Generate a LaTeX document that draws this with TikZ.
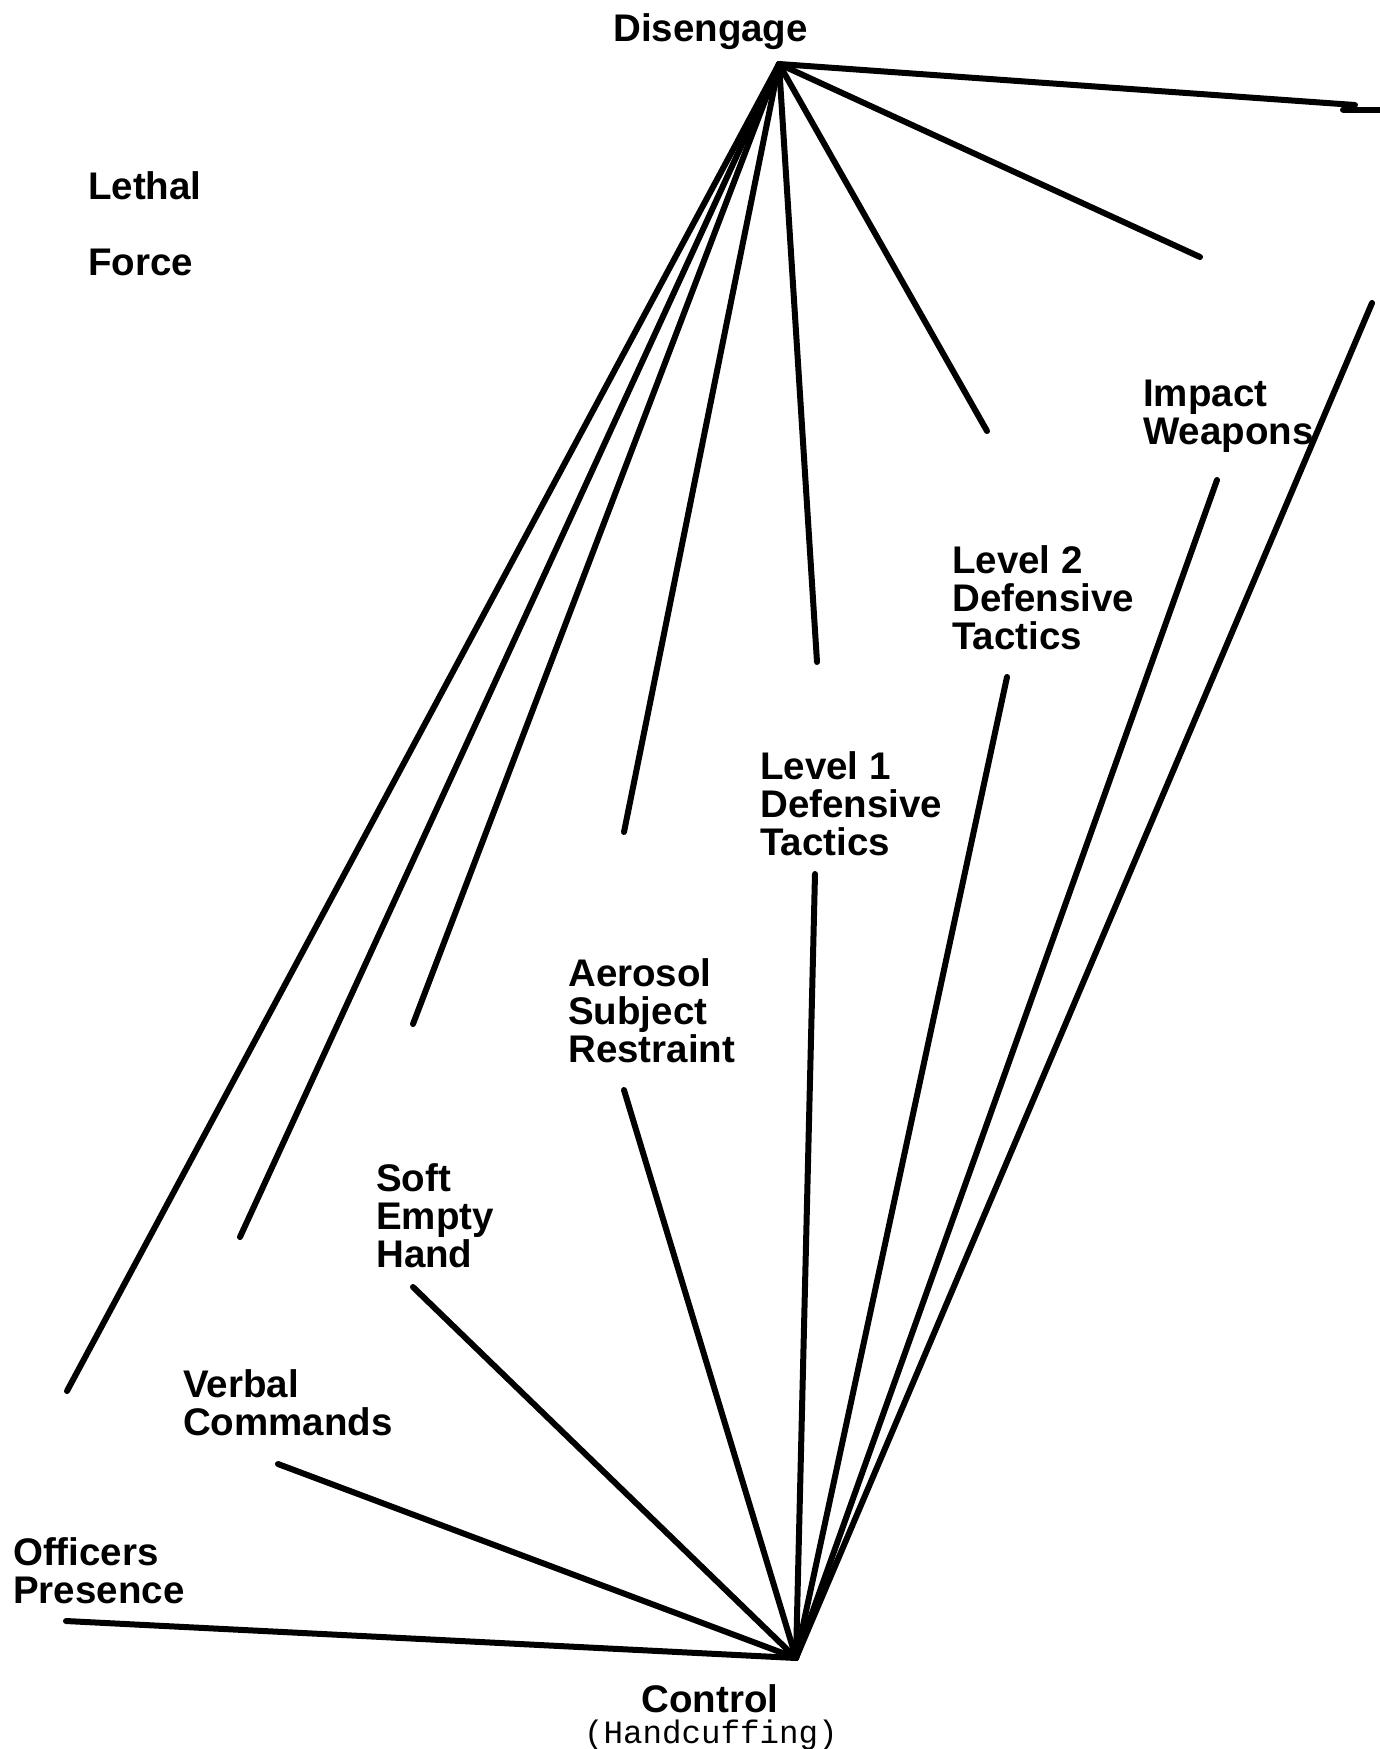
\documentclass[tikz,border=0pt]{standalone}
\usepackage{fontspec}
\setmainfont{Liberation Sans}
\setmonofont{Liberation Mono}
\begin{document}
\begin{tikzpicture}[x=1pt,y=-1pt,
  lbl/.style={anchor=base west,inner sep=0pt,align=left,font=\fontsize{38.5}{38}\selectfont\bfseries},
  ray/.style={line width=6pt,line cap=round}]
\useasboundingbox[fill=white] (0,0) rectangle (1380,1749);
% apexes
\coordinate (D) at (779,64);
\coordinate (C) at (796,1658);
% labels (anchor = baseline of last line)
\node[lbl] (dis) at (613,41) {Disengage};
\node[anchor=base,inner sep=0pt,font=\fontsize{38.5}{38}\selectfont\bfseries] (ctl) at (710,1712) {Control};
\node[anchor=base,inner sep=0pt,font=\fontsize{32.5}{32}\selectfont\ttfamily] (hc) at (711,1743) {(Handcuffing)};
\node[lbl,font=\fontsize{38.5}{76}\selectfont\bfseries] (lf) at (88,275) {Lethal\\Force};
\node[lbl] (iw) at (1143,444) {Impact\\Weapons};
\node[lbl] (l2) at (952,649) {Level 2\\Defensive\\Tactics};
\node[lbl] (l1) at (760,855) {Level 1\\Defensive\\Tactics};
\node[lbl] (asr) at (568,1062) {Aerosol\\Subject\\Restraint};
\node[lbl] (seh) at (376,1267) {Soft\\Empty\\Hand};
\node[lbl] (vc) at (183,1435) {Verbal\\Commands};
\node[lbl] (op) at (13,1603) {Officers\\Presence};
% free ends, upper fan
\coordinate (d1) at (1355,105);
\coordinate (d2) at (1200,257);
\coordinate (d3) at (987,431);
\coordinate (d4) at (817,662);
\coordinate (d5) at (624,832);
\coordinate (d6) at (413,1024);
\coordinate (d7) at (240,1237);
\coordinate (d8) at (67,1391);
% free ends, lower fan
\coordinate (c1) at (66,1621);
\coordinate (c2) at (278,1464);
\coordinate (c3) at (413,1287);
\coordinate (c4) at (624,1090);
\coordinate (c5) at (815,874);
\coordinate (c6) at (1007,677);
\coordinate (c7) at (1217,480);
\coordinate (c8) at (1372,303);
% stub at top right
\coordinate (s1) at (1343,109.5);
\coordinate (s2) at (1385,109.5);
\foreach \i in {1,...,8}{
  \draw[ray] (D) -- (d\i);
  \draw[ray] (C) -- (c\i);
}
\draw[ray] (s1) -- (s2);
\end{tikzpicture}
\end{document}
